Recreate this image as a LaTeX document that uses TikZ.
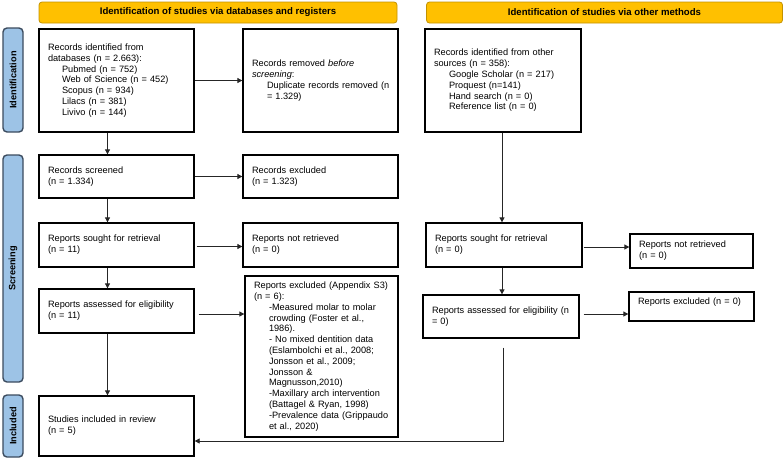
\documentclass[tikz,border=0pt]{standalone}
\usepackage{fontspec}
\setmainfont{Liberation Sans}
\usetikzlibrary{arrows.meta}
\definecolor{hdrfill}{HTML}{FFC000}
\definecolor{hdrdraw}{HTML}{C39200}
\definecolor{sidefill}{HTML}{9DC3E6}
\definecolor{sidedraw}{HTML}{3B4B5E}
\definecolor{arrcol}{HTML}{262626}
\begin{document}
\begin{tikzpicture}[x=1pt,y=-1pt,
 every node/.style={font=\fontsize{9.2}{10.8}\selectfont},
 box/.style={draw=black, line width=1.3pt, inner xsep=9pt, inner ysep=2pt, align=left},
 hdr/.style={draw=hdrdraw, fill=hdrfill, rounded corners=3pt, line width=0.8pt, minimum height=21pt, inner sep=0pt, font=\fontsize{9.6}{10.8}\selectfont\bfseries},
 side/.style={draw=sidedraw, fill=sidefill, rounded corners=4pt, line width=1.4pt, rotate=90, minimum height=20pt, inner sep=0pt, font=\fontsize{9.2}{10.8}\selectfont\bfseries},
 arr/.style={draw=arrcol, line width=0.8pt, -{Triangle[length=5pt,width=5pt]}}]
\useasboundingbox (0,0) rectangle (784,459);

% headers
\node[hdr, minimum width=358pt] (h1) at (218,12.5) {Identification of studies via databases and registers};
\node[hdr, minimum width=356pt] (h2) at (604.5,12.5) {Identification of studies via other methods};

% side bars
\node[side, minimum width=104pt] (s1) at (13,80) {Identification};
\node[side, minimum width=227pt] (s2) at (13,268.5) {Screening};
\node[side, minimum width=62pt] (s3) at (13,426) {Included};

% left column
\node[box, text width=137pt, minimum height=103pt] (id1) at (116.5,80.5) {Records identified from\\databases (n = 2.663):\\\hspace*{14pt}Pubmed (n = 752)\\\hspace*{14pt}Web of Science (n = 452)\\\hspace*{14pt}Scopus (n = 934)\\\hspace*{14pt}Lilacs (n = 381)\\\hspace*{14pt}Livivo (n = 144)};
\node[box, text width=137pt, minimum height=43pt] (scr) at (116.5,176.5) {Records screened\\(n = 1.334)};
\node[box, text width=137pt, minimum height=44pt] (sought) at (116.5,245) {Reports sought for retrieval\\(n = 11)};
\node[box, text width=137pt, minimum height=44pt] (assess) at (116.5,311) {Reports assessed for eligibility\\(n = 11)};
\node[box, text width=137pt, minimum height=60pt] (incl) at (116.5,426) {Studies included in review\\(n = 5)};

% middle column
\node[box, text width=137pt, minimum height=103pt] (rem) at (320.5,80.5) {Records removed \textit{before}\\\textit{screening}:\\\hspace*{15pt}\mbox{Duplicate records removed (n}\\\hspace*{15pt}= 1.329)};
\node[box, text width=137pt, minimum height=43pt] (exc) at (320.5,176.5) {Records excluded\\(n = 1.323)};
\node[box, text width=137pt, minimum height=44pt] (notret) at (320.5,245) {Reports not retrieved\\(n = 0)};
\node[box, text width=135pt, minimum height=161pt] (exs3) at (321.5,356.5) {\mbox{Reports excluded (Appendix S3)}\\(n = 6):\\\hspace*{15pt}-Measured molar to molar\\\hspace*{15pt}crowding (Foster et al.,\\\hspace*{15pt}1986).\\\hspace*{15pt}- No mixed dentition data\\\hspace*{15pt}\mbox{(Eslambolchi et al., 2008;}\\\hspace*{15pt}Jonsson et al., 2009;\\\hspace*{15pt}Jonsson \&\\\hspace*{15pt}Magnusson,2010)\\\hspace*{15pt}\mbox{-Maxillary arch intervention}\\\hspace*{15pt}(Battagel \& Ryan, 1998)\\\hspace*{15pt}\mbox{-Prevalence data (Grippaudo}\\\hspace*{15pt}et al., 2020)};

% right column
\node[box, text width=138pt, minimum height=103pt] (oth) at (503,80.5) {Records identified from other\\sources (n = 358):\\\hspace*{15pt}Google Scholar (n = 217)\\\hspace*{15pt}Proquest (n=141)\\\hspace*{15pt}Hand search (n = 0)\\\hspace*{15pt}Reference list (n = 0)};
\node[box, text width=138pt, minimum height=44pt] (soughtR) at (504,245) {Reports sought for retrieval\\(n = 0)};
\node[box, text width=105pt, minimum height=34pt] (notretR) at (691.5,251) {Reports not retrieved\\(n = 0)};
\node[box, text width=138pt, minimum height=43pt] (assessR) at (501,316.5) {\mbox{Reports assessed for eligibility (n}\\= 0)};
\node[box, text width=107pt, minimum height=29pt] (excR) at (691.5,306.5) {Reports excluded (n = 0)\\\mbox{}};

% connectors left
\draw[arr] (id1.east) -- (rem.west);
\draw[arr] ([xshift=-9pt]id1.south) -- ([xshift=-9pt]scr.north);
\draw[arr] (scr.east) -- (exc.west);
\draw[arr] ([xshift=-9pt]scr.south) -- ([xshift=-9pt]sought.north);
\draw[arr] ([xshift=2pt,yshift=-1.5pt]sought.east) -- ([yshift=-1.5pt]notret.west);
\draw[arr] ([xshift=-9pt]sought.south) -- ([xshift=-9pt]assess.north);
\draw[arr] ([xshift=4pt,yshift=-3pt]assess.east) -- ([yshift=-3pt]assess.east -| exs3.west);
\draw[arr] ([xshift=-9pt]assess.south) -- ([xshift=-9pt]incl.north);

% connectors right
\coordinate (rx) at (502,0);
\draw[arr] (oth.south -| rx) -- (soughtR.north -| rx);
\draw[arr] ([xshift=1pt,yshift=-2pt]soughtR.east) -- ([yshift=-2pt]soughtR.east -| notretR.west);
\draw[arr] (soughtR.south -| rx) -- (assessR.north -| rx);
\draw[arr] ([xshift=4pt,yshift=2.5pt]assessR.east) -- ([yshift=2.5pt]assessR.east -| excR.west);
\draw[arr] ([xshift=2pt,yshift=-9pt]assessR.south) |- ([yshift=-15pt]incl.east);
\end{tikzpicture}
\end{document}
